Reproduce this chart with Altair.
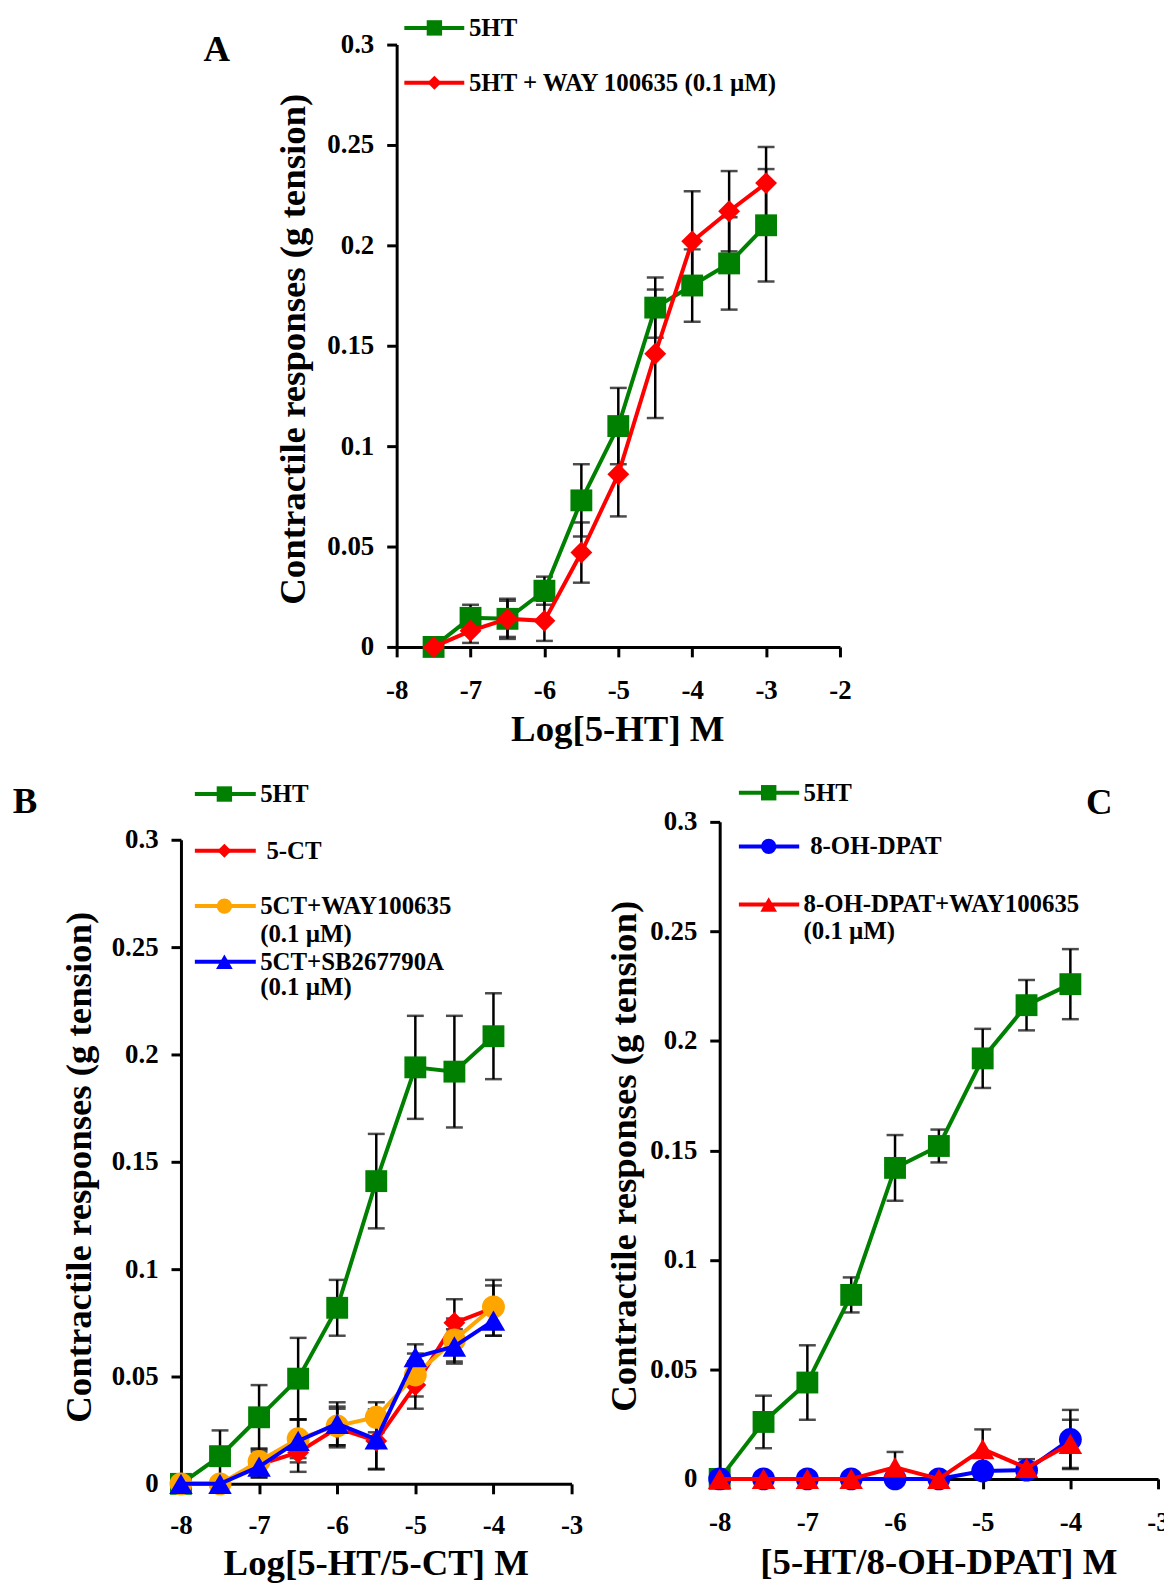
import altair as alt
import pandas as pd

FONT = "Liberation Serif"

# ---------------- data ----------------
Y_TICKS = [0, 0.05, 0.1, 0.15, 0.2, 0.25, 0.3]
Y_TITLE = "Contractile responses (g tension)"

# Panel A
A_X = [-7.5, -7, -6.5, -6, -5.5, -5, -4.5, -4, -3.5, -3]
A_5HT = [0, 0.0145, 0.014, 0.028, 0.073, 0.110, 0.169, 0.180, 0.191, 0.210]
A_5HT_ERR = [0, 0.0065, 0.010, 0.007, 0.018, 0.019, 0.015, 0.018, 0.023, 0.028]
A_WAY = [0, 0.008, 0.014, 0.013, 0.047, 0.086, 0.146, 0.202, 0.217, 0.231]
A_WAY_ERR = [0, 0.006, 0.009, 0.010, 0.015, 0.021, 0.032, 0.025, 0.020, 0.018]
A_XTICKS = [-8, -7, -6, -5, -4, -3, -2]
A_NAMES = ["5HT", "5HT + WAY 100635 (0.1 \u00b5M)"]

# Panel B
B_X = [-8, -7.5, -7, -6.5, -6, -5.5, -5, -4.5, -4]
B_5HT = [0, 0.0129, 0.031, 0.049, 0.082, 0.141, 0.194, 0.192, 0.2085]
B_5HT_ERR = [0, 0.012, 0.015, 0.019, 0.013, 0.022, 0.024, 0.026, 0.020]
B_5CT = [0, 0, 0.009, 0.0146, 0.026, 0.020, 0.046, 0.075, 0.082]
B_5CT_ERR = [0, 0, 0.006, 0.009, 0.009, 0.013, 0.011, 0.011, 0.013]
B_WAY = [0, 0, 0.0105, 0.021, 0.027, 0.031, 0.0507, 0.067, 0.0824]
B_WAY_ERR = [0, 0, 0.006, 0.009, 0.009, 0.007, 0.010, 0.010, 0.010]
B_SB = [0, 0, 0.008, 0.020, 0.028, 0.0207, 0.059, 0.064, 0.076]
B_SB_ERR = [0, 0, 0.005, 0.010, 0.010, 0.014, 0.006, 0.008, 0.007]
BC_XTICKS = [-8, -7, -6, -5, -4, -3]

# Panel C
C_X = [-8, -7.5, -7, -6.5, -6, -5.5, -5, -4.5, -4]
C_5HT = [0, 0.026, 0.044, 0.084, 0.142, 0.152, 0.192, 0.2163, 0.2259]
C_5HT_ERR = [0, 0.012, 0.017, 0.008, 0.015, 0.0075, 0.0135, 0.0115, 0.016]
C_DPAT = [0, 0, 0, 0, 0, 0, 0.0036, 0.004, 0.018]
C_DPAT_ERR = [0, 0, 0, 0, 0, 0, 0, 0, 0.0135]
C_DPATWAY = [0, 0, 0, 0, 0.0053, 0, 0.0136, 0.005, 0.016]
C_DPATWAY_ERR = [0, 0, 0, 0, 0.007, 0, 0.009, 0.004, 0.011]

GREEN, RED, ORANGE, BLUE = "#008000", "#ff0000", "#ffa500", "#0000ff"

# whole drawing area (all three panels share one layered canvas)
W, H = 983, 1448

AX = dict(labelFont=FONT, labelFontSize=27, labelFontWeight="bold", labelColor="black",
          titleFont=FONT, titleFontSize=37, titleFontWeight="bold", titleColor="black",
          tickColor="black", tickWidth=3, tickSize=10, domainColor="black", domainWidth=3,
          grid=False, labelFlush=False, labelOverlap=False,
          titleBaseline="middle", titleAlign="center")

MARK_SIZE = {"square": 484, "diamond": 484, "circle": 529, "triangle-up": 560}
LEG_SIZE = {"square": 240, "diamond": 200, "circle": 240, "triangle-up": 280}


def build_panel(p):
    xs = alt.Scale(domain=p["xdom"], range=p["xrange"], nice=False, zero=False)
    ys = alt.Scale(domain=[0, 0.3], range=p["yrange"], nice=False, zero=False)
    xaxis = alt.Axis(values=p["xticks"], labelExpr="'' + datum.value", title=p["xtitle"],
                     orient="bottom", offset=p["xoffset"],
                     titleX=p["xtitle_x"], titleY=p["xtitle_y"], labelPadding=p["xlabpad"], **AX)
    yaxis = alt.Axis(values=Y_TICKS, format="~g", title=Y_TITLE, orient="left", offset=p["yoffset"],
                     titleX=p["ytitle_x"], titleY=p["ytitle_y"], titleAngle=270, labelPadding=13, **AX)

    def X(field=None, datum=None):
        if datum is not None:
            return alt.X(datum=datum, type="quantitative", scale=xs, axis=xaxis)
        return alt.X(field, type="quantitative", scale=xs, axis=xaxis)

    def Y(field=None, datum=None):
        if datum is not None:
            return alt.Y(datum=datum, type="quantitative", scale=ys, axis=yaxis)
        return alt.Y(field, type="quantitative", scale=ys, axis=yaxis)

    one = pd.DataFrame({"a": [0]})
    layers = []

    # error bars
    for s in p["series"]:
        df = pd.DataFrame({"x": s["x"], "y": s["y"], "err": s["err"]})
        df = df[df["err"] > 0].copy()
        if len(df) == 0:
            continue
        base = alt.Chart(df).transform_calculate(lo="datum.y - datum.err", hi="datum.y + datum.err")
        layers.append(base.mark_rule(color="black", strokeWidth=2.5).encode(
            x=X("x"), y=Y("lo"), y2=alt.Y2("hi")))
        layers.append(base.mark_tick(color="black", orient="horizontal", size=17, thickness=2.5).encode(
            x=X("x"), y=Y("lo")))
        layers.append(base.mark_tick(color="black", orient="horizontal", size=17, thickness=2.5).encode(
            x=X("x"), y=Y("hi")))

    # lines and markers
    for s in p["series"]:
        df = pd.DataFrame({"x": s["x"], "y": s["y"]})
        layers.append(alt.Chart(df).mark_line(color=s["color"], strokeWidth=4).encode(x=X("x"), y=Y("y")))
        layers.append(alt.Chart(df).mark_point(shape=s["shape"], filled=True, opacity=1, color=s["color"],
                                               size=MARK_SIZE[s["shape"]]).encode(x=X("x"), y=Y("y")))

    # legend
    lg = p["legend"]
    for s, ly in zip(p["series"], lg["ys"]):
        ldf = pd.DataFrame({"x1": [lg["x1"]], "x2": [lg["x2"]], "xm": [lg["xm"]], "y": [ly]})
        layers.append(alt.Chart(ldf).mark_rule(color=s["color"], strokeWidth=4).encode(
            x=X("x1"), x2=alt.X2("x2"), y=Y("y")))
        layers.append(alt.Chart(ldf).mark_point(shape=s["shape"], filled=True, opacity=1, color=s["color"],
                                                size=LEG_SIZE[s["shape"]]).encode(x=X("xm"), y=Y("y")))
    tdf = pd.DataFrame(lg["texts"], columns=["x", "y", "t"])
    layers.append(alt.Chart(tdf).mark_text(font=FONT, fontSize=25, fontWeight="bold", align="left",
                                           baseline="middle", color="black").encode(
        x=X("x"), y=Y("y"), text="t:N"))

    # panel letter
    layers.append(alt.Chart(one).mark_text(text=p["letter"], font=FONT, fontSize=37, fontWeight="bold",
                                           align="center", baseline="middle", color="black").encode(
        x=X(datum=p["letter_xy"][0]), y=Y(datum=p["letter_xy"][1])))

    return alt.layer(*layers)


panel_a = build_panel(dict(
    xdom=[-8, -2], xrange=[217, 663], yrange=[606, 0], xticks=A_XTICKS,
    xtitle="Log[5-HT] M", xoffset=-(H - 606), xtitle_x=439, xtitle_y=83, xlabpad=21,
    yoffset=-217, ytitle_x=-104, ytitle_y=306,
    series=[dict(x=A_X, y=A_5HT, err=A_5HT_ERR, color=GREEN, shape="square"),
            dict(x=A_X, y=A_WAY, err=A_WAY_ERR, color=RED, shape="diamond")],
    legend=dict(x1=-7.896, x2=-7.085, xm=-7.489, ys=[0.3083, 0.2810],
                texts=[(-7.022, 0.3083, A_NAMES[0]), (-7.022, 0.2810, A_NAMES[1])]),
    letter="A", letter_xy=(-10.435, 0.2973)))

panel_b = build_panel(dict(
    xdom=[-8, -3], xrange=[0, 393], yrange=[1448, 800], xticks=BC_XTICKS,
    xtitle="Log[5-HT/5-CT] M", xoffset=0, xtitle_x=196, xtitle_y=80, xlabpad=19,
    yoffset=0, ytitle_x=-102, ytitle_y=1129,
    series=[dict(x=B_X, y=B_5HT, err=B_5HT_ERR, color=GREEN, shape="square"),
            dict(x=B_X, y=B_5CT, err=B_5CT_ERR, color=RED, shape="diamond"),
            dict(x=B_X, y=B_WAY, err=B_WAY_ERR, color=ORANGE, shape="circle"),
            dict(x=B_X, y=B_SB, err=B_SB_ERR, color=BLUE, shape="triangle-up")],
    legend=dict(x1=-7.822, x2=-7.042, xm=-7.444, ys=[0.3213, 0.2949, 0.2691, 0.2432],
                texts=[(-6.986, 0.3213, "5HT"), (-6.906, 0.2949, "5-CT"),
                       (-6.986, 0.2691, "5CT+WAY100635"), (-6.986, 0.2560, "(0.1 \u00b5M)"),
                       (-6.986, 0.2432, "5CT+SB267790A"), (-6.986, 0.2313, "(0.1 \u00b5M)")]),
    letter="B", letter_xy=(-9.997, 0.3176)))

panel_c = build_panel(dict(
    xdom=[-8, -3], xrange=[542, 983], yrange=[1443, 782], xticks=BC_XTICKS,
    xtitle="[5-HT/8-OH-DPAT] M", xoffset=-5, xtitle_x=762, xtitle_y=84, xlabpad=21,
    yoffset=-542, ytitle_x=-96, ytitle_y=1118,
    series=[dict(x=C_X, y=C_5HT, err=C_5HT_ERR, color=GREEN, shape="square"),
            dict(x=C_X, y=C_DPAT, err=C_DPAT_ERR, color=BLUE, shape="circle"),
            dict(x=C_X, y=C_DPATWAY, err=C_DPATWAY_ERR, color=RED, shape="triangle-up")],
    legend=dict(x1=-7.781, x2=-7.093, xm=-7.441, ys=[0.3133, 0.2888, 0.2623],
                texts=[(-7.044, 0.3133, "5HT"), (-6.968, 0.2888, "8-OH-DPAT"),
                       (-7.044, 0.2623, "8-OH-DPAT+WAY100635"), (-7.044, 0.2501, "(0.1 \u00b5M)")]),
    letter="C", letter_xy=(-3.669, 0.3086)))

chart = alt.layer(panel_a, panel_b, panel_c).resolve_scale(
    x="independent", y="independent").resolve_axis(
    x="independent", y="independent").properties(
    width=W, height=H,
    autosize=alt.AutoSizeParams(type="none"),
    padding={"left": 174, "top": 32, "right": 6, "bottom": 104}).configure_view(stroke=None)

chart.save("out.html", embed_options={"renderer": "svg", "actions": False})
